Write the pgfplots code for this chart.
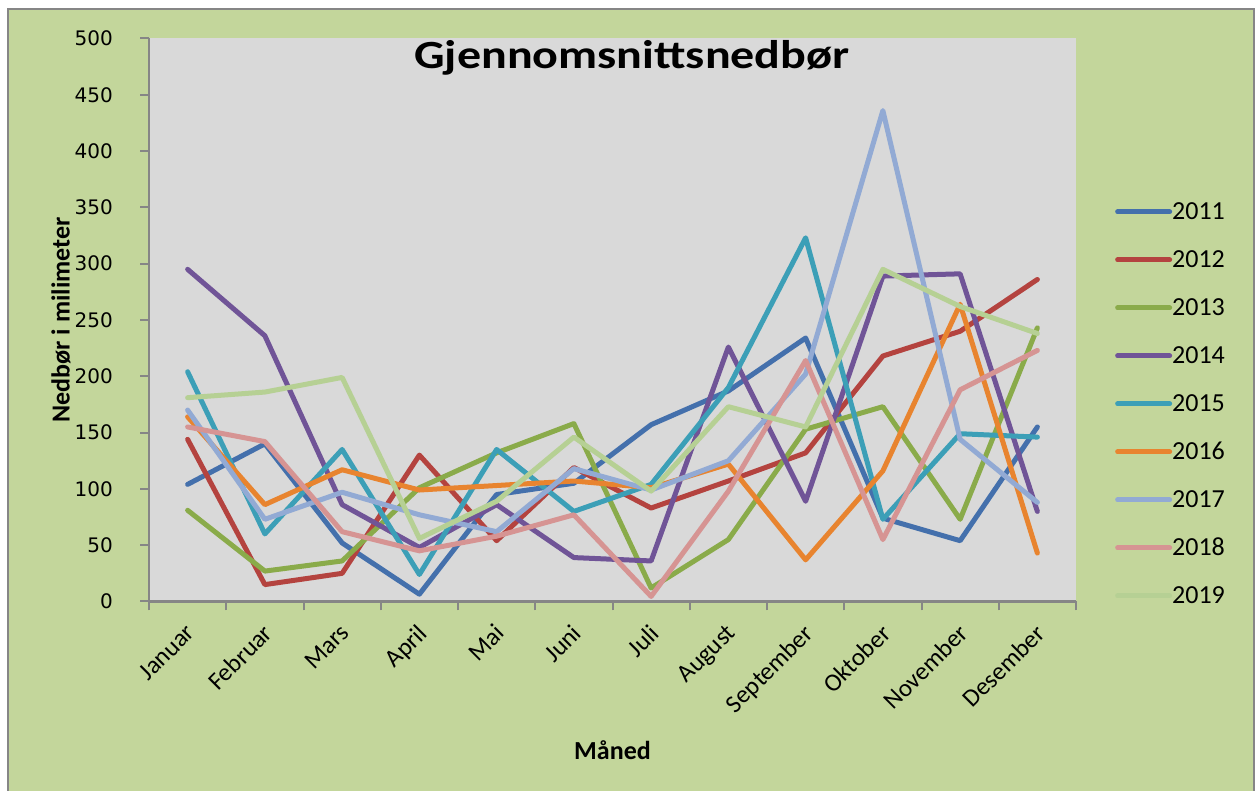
\documentclass[border=0pt]{standalone}
\usepackage{fontspec}
\setmainfont{Carlito}
\newfontfamily\tickfont{DejaVu Sans}
\newfontfamily\titlefont[FakeStretch=1.2]{Carlito}
\usepackage{pgfplots}
\usepackage{pgfplotstable}
\pgfplotsset{compat=1.18}
\definecolor{bggreen}{HTML}{C3D69B}
\definecolor{plotgray}{HTML}{D9D9D9}
\definecolor{bordergray}{HTML}{868686}
\definecolor{c2011}{HTML}{4470AC}
\definecolor{c2012}{HTML}{B4433F}
\definecolor{c2013}{HTML}{8AAB4A}
\definecolor{c2014}{HTML}{705497}
\definecolor{c2015}{HTML}{3C9FB7}
\definecolor{c2016}{HTML}{E8842F}
\definecolor{c2017}{HTML}{92AAD4}
\definecolor{c2018}{HTML}{D69493}
\definecolor{c2019}{HTML}{B6D094}
\pgfplotstableread{
x  a b c d e f g h i
0  104 144 81 295 204 164 170 155 181
1  140 15 27 236 60 86 73 142 186
2  52 25 36 86 135 117 97 62 199
3  6.5 130 101 48 24 99 77 45 56
4  95 54 132 86 135 103 62 58 89
5  105 119 158 39 80 107 118 77 146
6  157 83 12 36 104 101 99 4.5 98
7  187 107 55 226 190 122 125 98 173
8  234 132 153 89 323 37 202 214 155
9  74 218 173 289 73 116 436 55 295
10 54 240 73 291 149 264 144 188 262
11 155 286 243 80 146 43 88 223 238
}\datatable
\begin{document}
\begin{tikzpicture}[x=1pt,y=1pt]
\fill[white] (0,0) rectangle (1255,791);
\fill[bggreen] (8,0) rectangle (1254,782);
\draw[bordergray, line width=2pt] (8,-3) -- (8,782) -- (1254,782) -- (1254,-3);
\begin{axis}[
  at={(149pt,189.5pt)}, anchor=south west,
  width=927pt, height=563pt, scale only axis,
  xmin=-0.5, xmax=11.5, ymin=0, ymax=500,
  axis background/.style={fill=plotgray},
  axis lines*=left,
  axis line style={draw=bordergray, line width=2.5pt},
  tick align=outside,
  major tick length=9pt,
  tick style={draw=bordergray, line width=2pt},
  xtick={-0.5,0.5,1.5,2.5,3.5,4.5,5.5,6.5,7.5,8.5,9.5,10.5,11.5},
  xticklabels={},
  extra x ticks={0,1,2,3,4,5,6,7,8,9,10,11},
  extra x tick labels={Januar,Februar,Mars,April,Mai,Juni,Juli,August,September,Oktober,November,Desember},
  extra x tick style={major tick length=0pt, tick style={draw=none}},
  xticklabel style={font=\fontsize{25pt}{30pt}\selectfont, inner sep=0pt, xshift=-3pt, yshift=-21pt, rotate=45, anchor=north east},
  ytick={0,50,...,500},
  /pgf/number format/assume math mode=true,
  yticklabel style={font=\tickfont\fontsize{20pt}{24pt}\selectfont, anchor=east, inner sep=0pt, xshift=-27pt},
  ylabel={Nedbør i milimeter},
  xlabel={Måned},
  every axis y label/.style={at={(axis description cs:-0.095,0.5)}, rotate=90, anchor=center, font=\bfseries\fontsize{26pt}{30pt}\selectfont},
  every axis x label/.style={at={(axis description cs:0.5,-0.264)}, anchor=center, font=\bfseries\fontsize{26pt}{30pt}\selectfont},
  title={Gjennomsnittsnedbør},
  every axis title/.style={at={(axis description cs:0.521,0.946)}, anchor=base, font=\titlefont\bfseries\fontsize{40pt}{46pt}\selectfont},
  every axis plot/.append style={line width=5pt, line join=round, line cap=round},
  legend style={at={(axis description cs:1.042,0.711)}, anchor=north west, draw=none, fill=none, inner sep=0pt, row sep=25pt, font=\fontsize{26pt}{30pt}\selectfont, nodes={inner sep=0pt, text height=18pt, text depth=5pt}, /tikz/every even column/.append style={column sep=3pt}},
  legend cell align=left,
  legend image code/.code={\draw[#1, line width=5pt, line cap=round] (2.5pt,1pt) -- (54.5pt,1pt);},
]
\addplot[c2011] table[x=x,y=a] {\datatable}; \addlegendentry{2011}
\addplot[c2012] table[x=x,y=b] {\datatable}; \addlegendentry{2012}
\addplot[c2013] table[x=x,y=c] {\datatable}; \addlegendentry{2013}
\addplot[c2014] table[x=x,y=d] {\datatable}; \addlegendentry{2014}
\addplot[c2015] table[x=x,y=e] {\datatable}; \addlegendentry{2015}
\addplot[c2016] table[x=x,y=f] {\datatable}; \addlegendentry{2016}
\addplot[c2017] table[x=x,y=g] {\datatable}; \addlegendentry{2017}
\addplot[c2018] table[x=x,y=h] {\datatable}; \addlegendentry{2018}
\addplot[c2019] table[x=x,y=i] {\datatable}; \addlegendentry{2019}
\end{axis}
\pgfresetboundingbox
\path (0,0) rectangle (1255,791);
\end{tikzpicture}
\end{document}
